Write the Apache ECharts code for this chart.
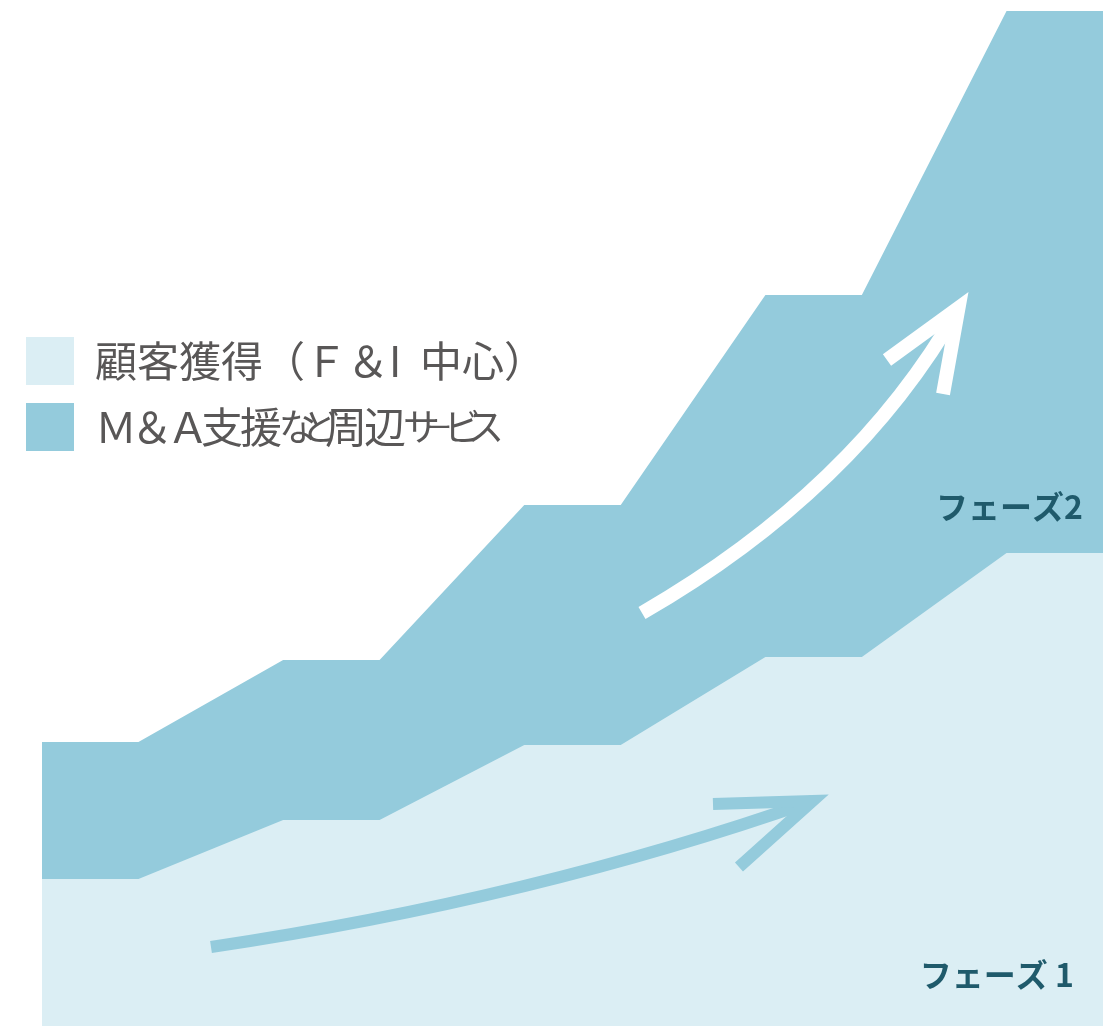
<!DOCTYPE html>
<html>
<head>
<meta charset="utf-8">
<script src="https://cdn.jsdelivr.net/npm/echarts@6/dist/echarts.min.js"></script>
<style>
html,body{margin:0;padding:0;background:#ffffff;}
#chart{width:1112px;height:1027px;}
</style>
</head>
<body>
<div id="chart"></div>
<script>
// ---- data ----
const seriesNames = ['顧客獲得（Ｆ＆I  中心）', 'Ｍ＆Ａ支援など周辺サービス'];
const xPoints = [0, 2, 5, 7, 10, 12, 15, 17, 20, 22];
const customerAcq = [147, 147, 206, 206, 281, 281, 369, 369, 473, 473];
const maServices = [137, 137, 160, 160, 240, 240, 362, 362, 542, 542];
const phaseLabels = ['フェーズ 1', 'フェーズ2'];
// growth arrows in data space: tail, control, end, arm A, arm B
const arrowPhase1 = [[3.504, 79], [10.181, 127], [15.977, 225], [13.913, 222], [14.452, 159]];
const arrowPhase2 = [[12.441, 413], [16.858, 536], [19.004, 718], [17.521, 666], [18.683, 632]];

const lightColor = '#dbeef4';
const darkColor = '#94cbdc';
const arrowStyles = [
  { color: '#94cbdc', width: 12 },
  { color: '#ffffff', width: 14 }
];
const arrows = [arrowPhase1, arrowPhase2];

const chart = echarts.init(document.getElementById('chart'), null, { renderer: 'canvas' });

const totals = customerAcq.map((v, i) => v + maServices[i]);
function pairs(vals) { return xPoints.map((x, i) => [x, vals[i]]); }

// per-character tracking for the compact second legend line
function charClass(ch, i) {
  if (ch === 'Ｍ') return 'm';
  if (ch === '＆') return 'w';
  if (ch === 'Ａ') return 'a';
  if ('支援周辺'.indexOf(ch) >= 0) return 'k';
  if (ch === 'ー') return 'd';
  return 'n';
}
const FONT = '"Noto Sans CJK JP", "Noto Sans CJK SC", sans-serif';
const TXT = '#595757';
function rs(size, pr) {
  return { fontSize: size, color: TXT, fontFamily: FONT, padding: [0, pr, 0, 0], verticalAlign: 'middle' };
}

const option = {
  backgroundColor: '#ffffff',
  animation: false,
  grid: { left: 42, right: 9, top: 11, bottom: 1, containLabel: false },
  xAxis: { type: 'value', min: 0, max: 22, show: false },
  yAxis: { type: 'value', min: 0, max: 1015, show: false },
  legend: {
    orient: 'vertical',
    left: 26,
    top: 337,
    padding: 0,
    itemWidth: 48,
    itemHeight: 48,
    itemGap: 18,
    icon: 'rect',
    selectedMode: false,
    itemStyle: { borderWidth: 0 },
    formatter: function (name) {
      if (name === seriesNames[1]) {
        return name.split('').map((ch, i) => '{' + charClass(ch, i) + '|' + ch + '}').join('');
      }
      return name;
    },
    textStyle: {
      fontSize: 42,
      color: TXT,
      fontFamily: FONT,
      padding: [0, 0, 0, 16],
      rich: {
        m: rs(42, -6),
        w: rs(42, -6),
        a: rs(42, -8),
        k: rs(42, -3),
        n: rs(37, -14),
        d: rs(26, -8)
      }
    },
    data: seriesNames
  },
  series: [
    {
      name: seriesNames[1],
      type: 'line',
      data: pairs(totals),
      symbol: 'none',
      lineStyle: { width: 0 },
      itemStyle: { color: darkColor },
      areaStyle: { color: darkColor, opacity: 1 },
      silent: true,
      z: 1
    },
    {
      name: seriesNames[0],
      type: 'line',
      data: pairs(customerAcq),
      symbol: 'none',
      lineStyle: { width: 0 },
      itemStyle: { color: lightColor },
      areaStyle: { color: lightColor, opacity: 1 },
      silent: true,
      z: 2
    },
    {
      type: 'custom',
      coordinateSystem: 'cartesian2d',
      silent: true,
      z: 5,
      data: [[0], [1]],
      renderItem: function (params, api) {
        const idx = params.dataIndex;
        const a = arrows[idx];
        const st = arrowStyles[idx];
        const p0 = api.coord(a[0]);
        const c = api.coord(a[1]);
        const p2 = api.coord(a[2]);
        const armA = api.coord(a[3]);
        const armB = api.coord(a[4]);
        return {
          type: 'group',
          children: [
            {
              type: 'bezierCurve',
              shape: { x1: p0[0], y1: p0[1], cpx1: c[0], cpy1: c[1], x2: p2[0], y2: p2[1] },
              style: { stroke: st.color, lineWidth: st.width, fill: null, lineCap: 'butt' }
            },
            {
              type: 'polyline',
              shape: { points: [armA, p2, armB] },
              style: { stroke: st.color, lineWidth: st.width, fill: null, lineJoin: 'miter', miterLimit: 10, lineCap: 'butt' }
            }
          ]
        };
      }
    }
  ],
  graphic: [
    {
      type: 'text',
      x: 1083,
      y: 507,
      z: 10,
      style: {
        text: phaseLabels[1],
        font: 'bold 32px "Noto Sans CJK JP", sans-serif',
        fill: '#1f5a6b',
        align: 'right',
        verticalAlign: 'middle'
      }
    },
    {
      type: 'text',
      x: 1074,
      y: 975,
      z: 10,
      style: {
        text: phaseLabels[0],
        font: 'bold 32px "Noto Sans CJK JP", sans-serif',
        fill: '#1f5a6b',
        align: 'right',
        verticalAlign: 'middle'
      }
    }
  ]
};

chart.setOption(option);
</script>
</body>
</html>
